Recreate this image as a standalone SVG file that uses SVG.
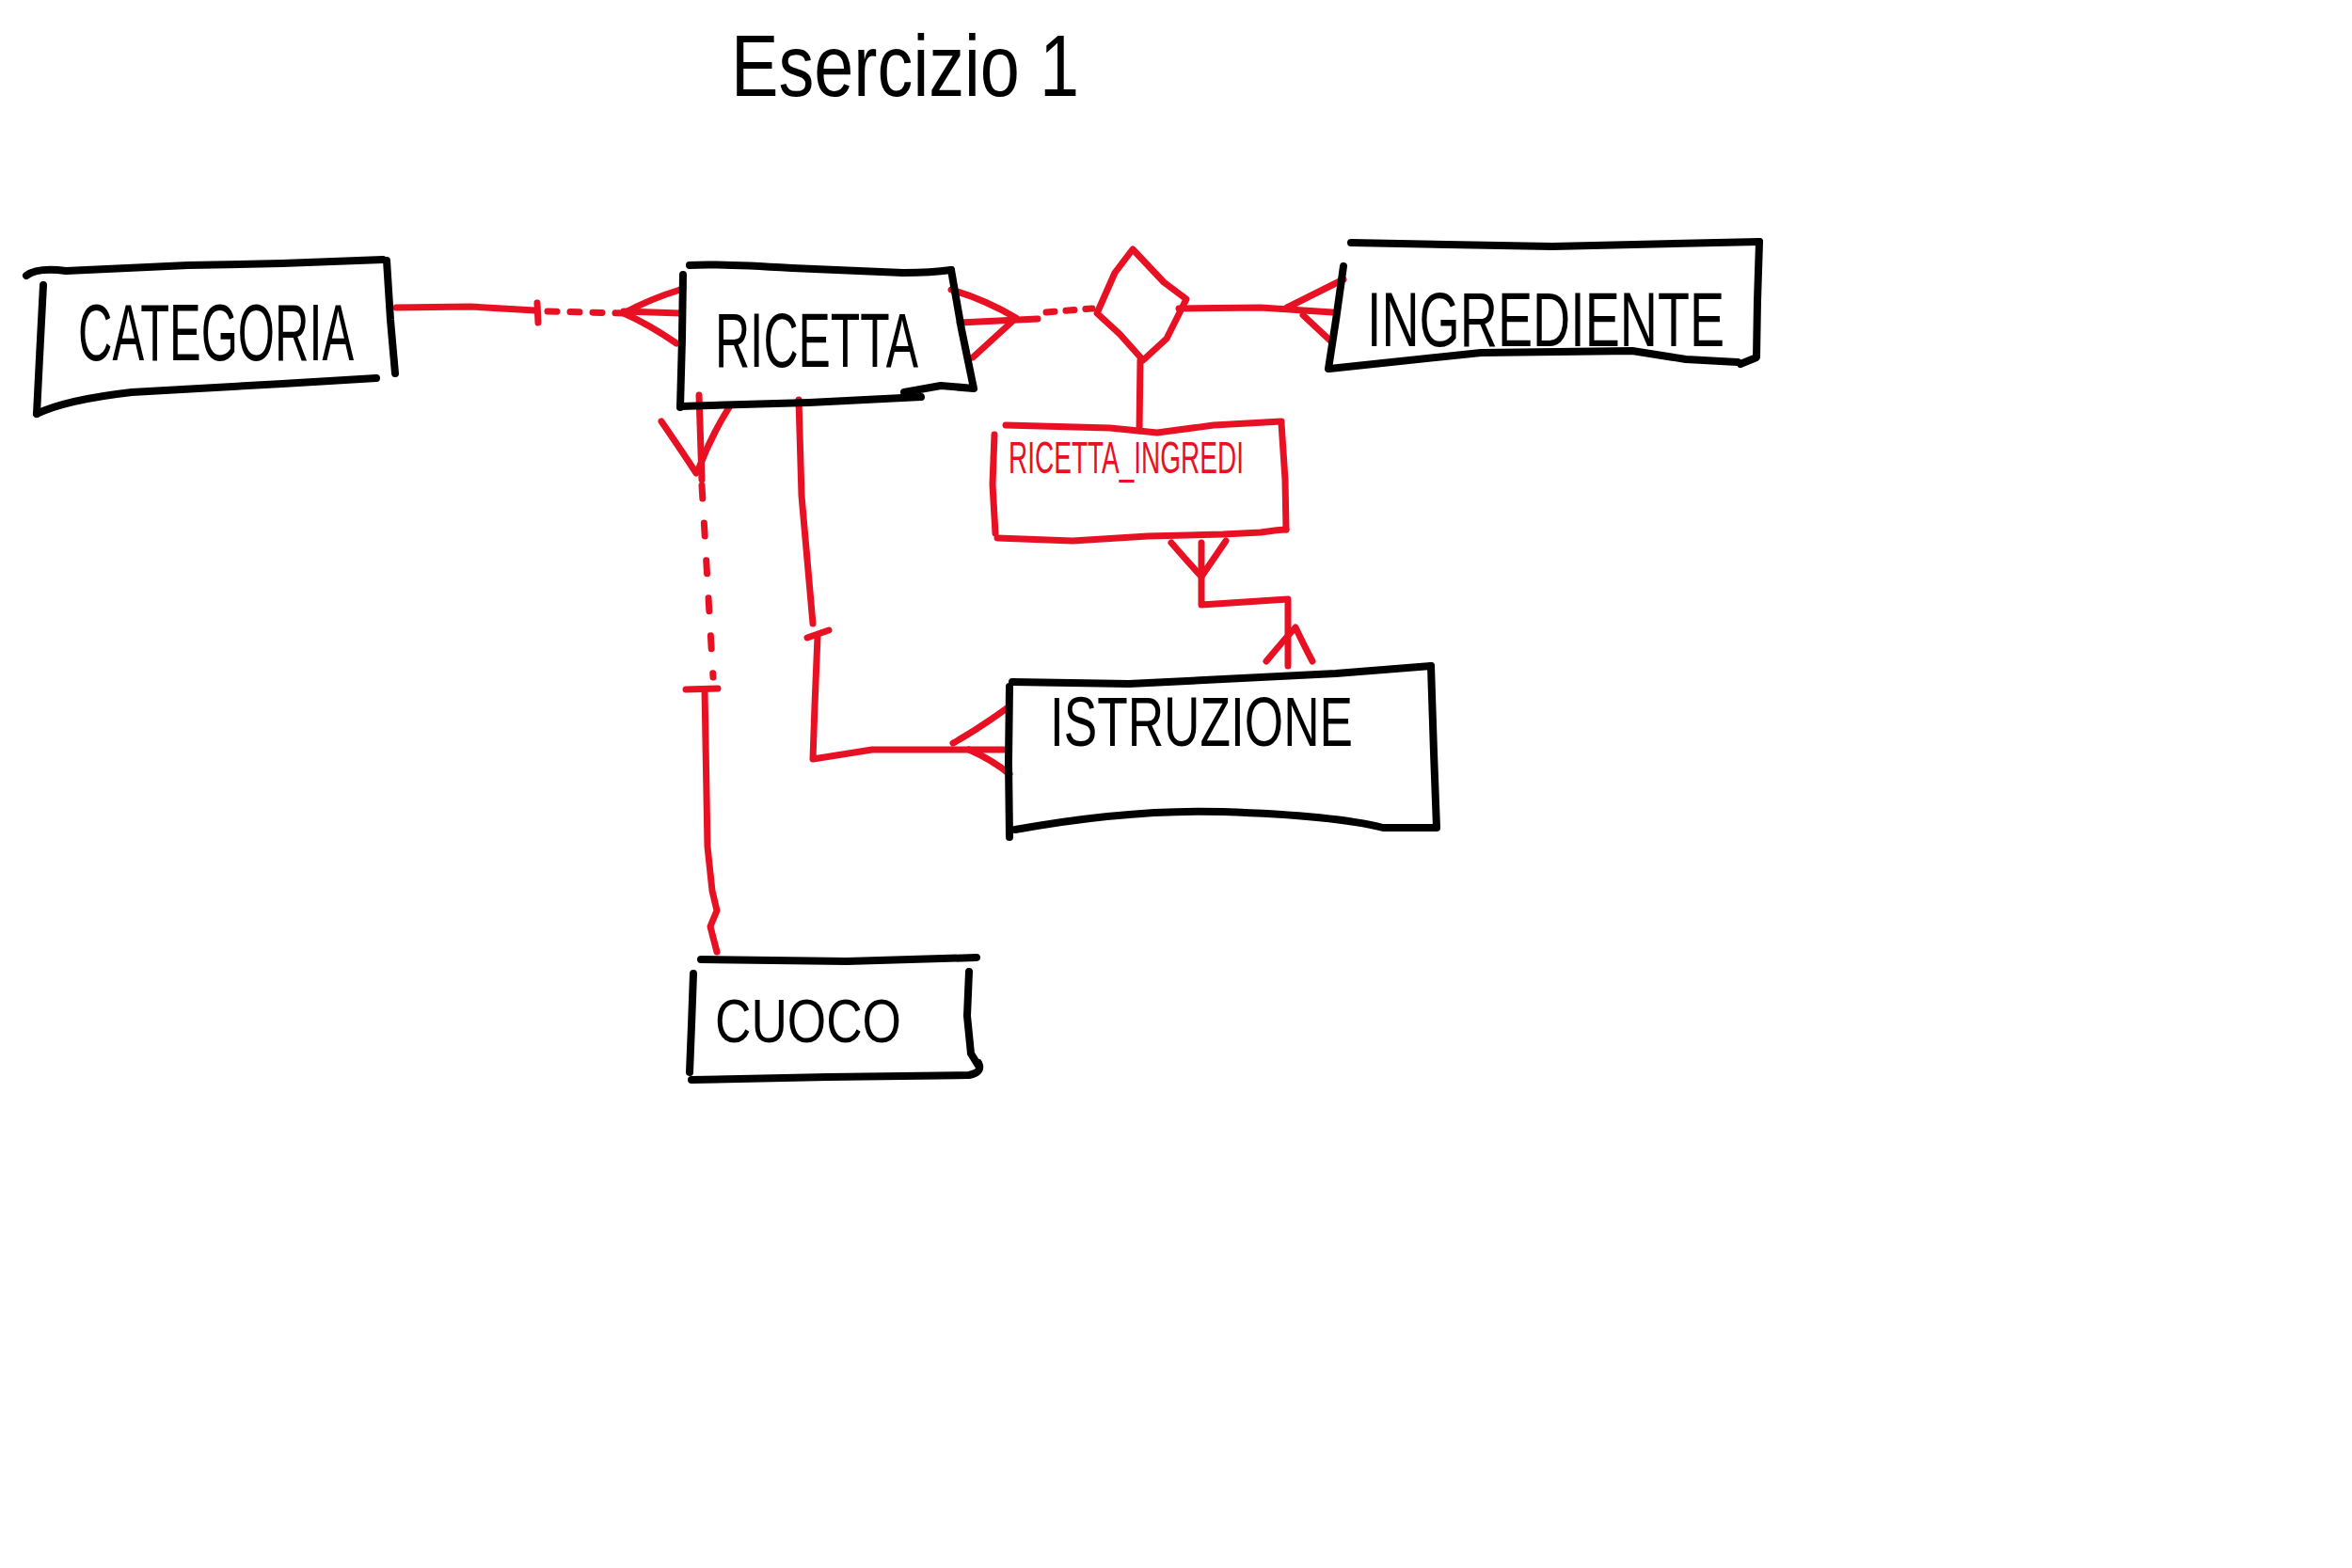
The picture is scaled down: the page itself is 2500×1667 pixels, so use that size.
<svg xmlns="http://www.w3.org/2000/svg" width="2500" height="1667" viewBox="0 0 2500 1667">
<style>
.b{fill:none;stroke:#000;stroke-width:8;stroke-linecap:round;stroke-linejoin:round}
.r{fill:none;stroke:#e81123;stroke-width:7;stroke-linecap:round;stroke-linejoin:round}
.t{font-family:"Liberation Sans",Arial,sans-serif;fill:#000}
.tr{font-family:"Liberation Sans",Arial,sans-serif;fill:#e81123}
</style>
<rect width="2500" height="1667" fill="#fff"/>
<g id="title">
<text class="t" x="777" y="102" font-size="92" textLength="370" lengthAdjust="spacingAndGlyphs">Esercizio 1</text>
</g>
<g id="connectors">
<!-- Categoria - Ricetta -->
<path class="r" d="M421,327 L500,326 L568,330"/>
<path class="r" d="M571,322 L572,343"/>
<path class="r" d="M582,331 L663,333" stroke-dasharray="10 14"/>
<path class="r" d="M726,307 Q690,318 663,333 Q690,345 719,365"/>
<path class="r" d="M663,331 L723,333"/>
<!-- Ricetta - relationship -->
<path class="r" d="M1011,308 Q1046,318 1080,338 L1034,380"/>
<path class="r" d="M1020,343 L1103,339"/>
<path class="r" d="M1112,332 L1161,328" stroke-dasharray="9 12"/>
<!-- relationship - Ingrediente -->
<path class="r" d="M1253,328 L1340,327 L1416,332"/>
<path class="r" d="M1428,297 L1368,327"/>
<path class="r" d="M1385,335 L1416,364"/>
<!-- relationship - Ricetta_Ingredi -->
<path class="r" d="M1212,383 L1211,458"/>
<!-- Ricetta_Ingredi - Istruzione -->
<path class="r" d="M1245,577 Q1265,600 1277,613 L1303,575"/>
<path class="r" d="M1277,577 L1277,643 L1369,637 L1369,708"/>
<path class="r" d="M1346,703 Q1365,680 1377,667 Q1388,690 1395,703"/>
<!-- Ricetta - Istruzione -->
<path class="r" d="M849,425 L852,527 L864,663"/>
<path class="r" d="M858,678 L881,670"/>
<path class="r" d="M869,677 L866,750 L864,807 L927,797 L1067,797"/>
<path class="r" d="M1070,753 Q1040,775 1013,790"/>
<path class="r" d="M1030,797 Q1055,808 1073,823"/>
<!-- Ricetta - Cuoco -->
<path class="r" d="M703,448 Q725,480 740,503"/>
<path class="r" d="M775,433 Q755,465 742,500"/>
<path class="r" d="M743,420 L746,510"/>
<path class="r" d="M746,516 L758,720" stroke-dasharray="14 26"/>
<path class="r" d="M729,733 L763,732"/>
<path class="r" d="M749,733 L752,900 L757,947 L762,968 L755,985 L762,1012"/>
</g>
<g id="node-categoria">
<path class="b" d="M28,293 Q40,284 70,288 L200,282 L300,280 L407,276"/>
<path class="b" d="M46,303 L42,380 L39,440"/>
<path class="b" d="M39,440 Q70,425 140,417 L300,408 L400,402"/>
<path class="b" d="M411,277 L415,340 L420,397"/>
<text class="t" x="83" y="383" font-size="86" textLength="293" lengthAdjust="spacingAndGlyphs">CATEGORIA</text>
</g>
<g id="node-ricetta">
<path class="b" d="M733,282 Q760,280 842,285 L960,290 Q990,290 1011,287"/>
<path class="b" d="M726,292 L725,360 L723,433"/>
<path class="b" d="M723,432 L860,428 L979,422"/>
<path class="b" d="M1011,287 L1022,350 L1035,413 L1000,410 L961,417"/>
<text class="t" x="760" y="390" font-size="82" textLength="216" lengthAdjust="spacingAndGlyphs">RICETTA</text>
</g>
<g id="node-ingrediente">
<path class="b" d="M1436,258 L1650,262 L1870,257"/>
<path class="b" d="M1428,283 L1420,340 L1412,392"/>
<path class="b" d="M1413,392 L1574,375 L1735,373 L1792,382 L1847,385"/>
<path class="b" d="M1870,257 L1868,320 L1867,380 L1850,387"/>
<text class="t" x="1453" y="368" font-size="82" textLength="380" lengthAdjust="spacingAndGlyphs">INGREDIENTE</text>
</g>
<g id="node-relazione">
<path class="r" d="M1204,265 L1237,300 L1261,318 L1240,360 L1215,383 L1190,355 L1166,333 L1185,290 Z"/>
</g>
<g id="node-ricetta-ingredi">
<path class="r" d="M1069,452 L1180,455 L1230,460 L1290,452 L1362,448"/>
<path class="r" d="M1057,462 L1055,515 L1058,567"/>
<path class="r" d="M1060,572 L1140,575 L1220,570 L1300,568 L1340,566 Q1360,563 1367,563"/>
<path class="r" d="M1362,450 L1366,510 L1367,563"/>
<text class="tr" x="1072" y="503" font-size="48" textLength="250" lengthAdjust="spacingAndGlyphs">RICETTA_INGREDI</text>
</g>
<g id="node-istruzione">
<path class="b" d="M1076,725 L1200,727 L1300,722 L1420,716 L1521,708"/>
<path class="b" d="M1073,730 L1072,810 L1073,890"/>
<path class="b" d="M1079,882 Q1200,860 1300,863 Q1420,867 1470,880 L1524,880"/>
<path class="b" d="M1521,708 L1524,800 L1527,880"/>
<text class="t" x="1116" y="793" font-size="74" textLength="322" lengthAdjust="spacingAndGlyphs">ISTRUZIONE</text>
</g>
<g id="node-cuoco">
<path class="b" d="M745,1020 L900,1022 L1038,1018"/>
<path class="b" d="M737,1035 L735,1090 L733,1140"/>
<path class="b" d="M735,1148 L880,1145 L1030,1143 Q1045,1140 1040,1130"/>
<path class="b" d="M1030,1033 L1028,1080 L1032,1120 L1040,1133"/>
<text class="t" x="760" y="1108" font-size="64" textLength="198" lengthAdjust="spacingAndGlyphs">CUOCO</text>
</g>
</svg>
